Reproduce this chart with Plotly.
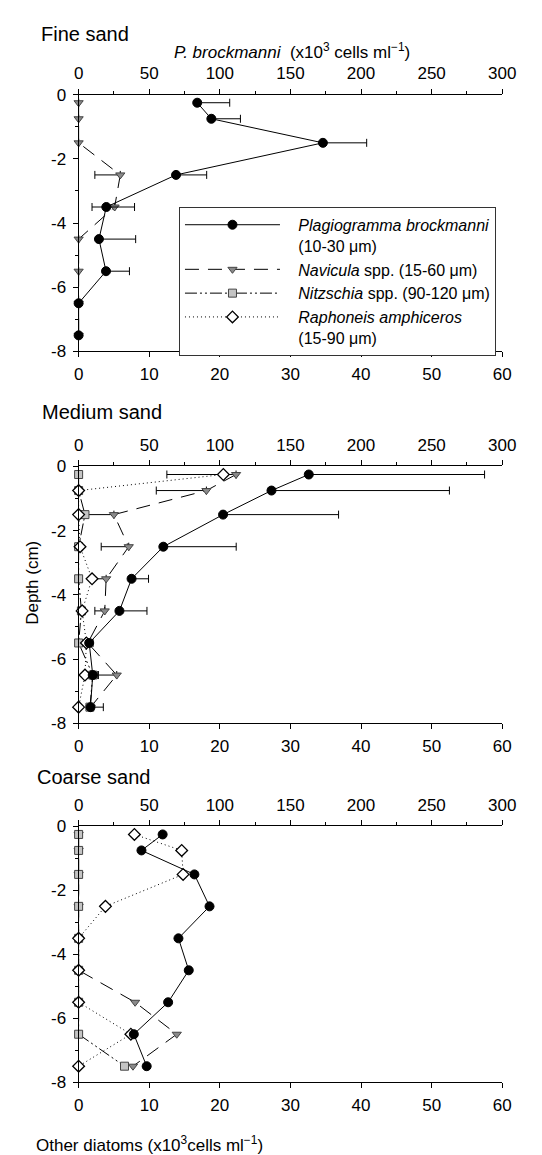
import plotly.graph_objects as go

# ---------------- data ----------------
depth = [-0.25, -0.75, -1.5, -2.5, -3.5, -4.5, -5.5, -6.5, -7.5]

fine_plagio = [84, 94, 173, 69, 19.6, 14.4, 19.4, 0, 0]
fine_plagio_err = [23, 20.6, 31, 21.7, 20, 26, 16.6, 0, 0]
fine_navicula = [0, 0, 0, 5.9, 5.1, 0, 0, 0, 0]
fine_navicula_err = [0, 0, 0, 3.6, 3.2, 0, 0, 0, 0]

medium_plagio = [163, 136.6, 102.3, 60, 37.5, 28.9, 7.5, 10, 8.4]
medium_plagio_err = [124.5, 126, 81.8, 51.6, 12, 19.5, 2.7, 3.6, 9.1]
medium_navicula = [22.3, 18.1, 5.0, 7.1, 3.9, 3.7, 1.3, 5.4, 1.7]
medium_navicula_err = [9.8, 7.1, 4.1, 3.9, 1.8, 1.4, 0, 2.6, 0]
medium_nitzschia = [0, 0, 0.9, 0, 0, 0.4, 0, 2.0, 1.6]
medium_raphoneis = [20.5, 0, 0, 0.2, 1.9, 0.5, 1.1, 0.9, 0]

coarse_plagio = [59.5, 44.5, 82, 92.7, 70.7, 78, 63.4, 39.1, 48.2]
coarse_navicula = [0, 0, 0, 0, 0, 0, 8.0, 13.9, 7.7]
coarse_nitzschia = [0, 0, 0, 0, 0, 0, 0, 0, 6.5]
coarse_raphoneis = [7.9, 14.6, 14.8, 3.8, 0, 0, 0, 7.4, 0]

panel_titles = ["Fine sand", "Medium sand", "Coarse sand"]
NB = "\u00a0\u00a0\u00a0"
series_names = [
    f"{NB}<i>Plagiogramma brockmanni</i><br>{NB}(10-30 μm)",
    f"{NB}<i>Navicula</i> spp. (15-60 μm)",
    f"{NB}<i>Nitzschia</i> spp. (90-120 μm)",
    f"{NB}<i>Raphoneis amphiceros</i><br>{NB}(15-90 μm)",
]
depth_ticks = [0, -2, -4, -6, -8]
depth_ticktext = ["0", "-2", "-4", "-6", "-8"]

# ---------------- layout geometry ----------------
W, H = 542, 1155
FONT = "Liberation Sans, Arial, Helvetica, sans-serif"
X_LEFT, X_RIGHT = 68, 507
PANEL_Y = [(79, 340), (457, 718), (823, 1083)]


def fy(p):
    return 1 - p / H


def fx(p):
    return p / W


def ax_name(letter, n):
    return f"{letter}axis" if n == 1 else f"{letter}axis{n}"


def ax_ref(letter, n):
    return letter if n == 1 else f"{letter}{n}"


fig = go.Figure()

styles = {
    "plagio": dict(mode="lines+markers", line=dict(color="black", width=1),
                   marker=dict(symbol="circle", size=9, color="black",
                               line=dict(color="black", width=1))),
    "navicula": dict(mode="lines+markers", line=dict(color="black", width=1, dash="14px,9px"),
                     marker=dict(symbol="triangle-down", size=8, color="#8a8a8a",
                                 line=dict(color="#444444", width=1))),
    "nitzschia": dict(mode="lines+markers",
                      line=dict(color="black", width=1, dash="12px,3px,2px,3px,2px,3px"),
                      marker=dict(symbol="square", size=8, color="#c4c4c4",
                                  line=dict(color="#444444", width=1))),
    "raphoneis": dict(mode="lines+markers", line=dict(color="black", width=1, dash="1px,3px"),
                      marker=dict(symbol="diamond", size=9, color="white",
                                  line=dict(color="black", width=1.3))),
}


def err(vals, side):
    zeros = [0] * len(vals)
    if side == "plus":
        return dict(type="data", symmetric=False, array=vals, arrayminus=zeros,
                    color="black", thickness=1, width=4)
    return dict(type="data", symmetric=False, array=zeros, arrayminus=vals,
                color="black", thickness=1, width=4)


panels_data = [
    dict(plagio=fine_plagio, plagio_err=fine_plagio_err,
         navicula=fine_navicula, navicula_err=fine_navicula_err),
    dict(plagio=medium_plagio, plagio_err=medium_plagio_err,
         navicula=medium_navicula, navicula_err=medium_navicula_err,
         nitzschia=medium_nitzschia, raphoneis=medium_raphoneis),
    dict(plagio=coarse_plagio, navicula=coarse_navicula,
         nitzschia=coarse_nitzschia, raphoneis=coarse_raphoneis),
]

tick_font = dict(family=FONT, size=17, color="black")

for i, (ytop, ybot) in enumerate(PANEL_Y):
    xb, xt = 2 * i + 1, 2 * i + 2
    yl, yr, yi = 3 * i + 1, 3 * i + 2, 3 * i + 3
    d = panels_data[i]
    show = (i == 1)

    fig.add_trace(go.Scatter(
        x=d["plagio"], y=depth, name=series_names[0], showlegend=show,
        xaxis=ax_ref("x", xt), yaxis=ax_ref("y", yl), cliponaxis=False,
        error_x=err(d["plagio_err"], "plus") if "plagio_err" in d else None,
        **styles["plagio"]))
    fig.add_trace(go.Scatter(
        x=d["navicula"], y=depth, name=series_names[1], showlegend=show,
        xaxis=ax_ref("x", xb), yaxis=ax_ref("y", yl), cliponaxis=False,
        error_x=err(d["navicula_err"], "minus") if "navicula_err" in d else None,
        **styles["navicula"]))
    if "nitzschia" in d:
        fig.add_trace(go.Scatter(
            x=d["nitzschia"], y=depth, name=series_names[2], showlegend=show,
            xaxis=ax_ref("x", xb), yaxis=ax_ref("y", yl), cliponaxis=False,
            **styles["nitzschia"]))
    if "raphoneis" in d:
        fig.add_trace(go.Scatter(
            x=d["raphoneis"], y=depth, name=series_names[3], showlegend=show,
            xaxis=ax_ref("x", xb), yaxis=ax_ref("y", yl), cliponaxis=False,
            **styles["raphoneis"]))

    common = dict(showgrid=False, zeroline=False, fixedrange=True)
    fig.update_layout(**{
        ax_name("x", xb): dict(
            domain=[fx(X_LEFT), fx(X_RIGHT)], anchor=ax_ref("y", yl), range=[0, 60],
            dtick=10, tick0=0, ticks="outside", ticklen=5, tickcolor="black",
            showline=True, linecolor="black", linewidth=1, tickfont=tick_font,
            ticklabelstandoff=2, **common),
        ax_name("x", xt): dict(
            overlaying=ax_ref("x", xb), anchor=ax_ref("y", yl), side="top", range=[0, 300],
            dtick=50, tick0=0, ticks="outside", ticklen=5, tickcolor="black",
            minor=dict(dtick=25, ticks="outside", ticklen=3, tickcolor="black"),
            showline=True, linecolor="black", linewidth=1, tickfont=tick_font,
            ticklabelstandoff=3, **common),
        ax_name("y", yl): dict(
            domain=[fy(ybot), fy(ytop)], anchor=ax_ref("x", xb), range=[-8, 0],
            tickvals=depth_ticks, ticktext=depth_ticktext, ticks="outside", ticklen=5,
            tickcolor="black",
            minor=dict(dtick=1, tick0=0, ticks="outside", ticklen=3, tickcolor="black"),
            showline=True, linecolor="black", linewidth=1, tickfont=tick_font,
            ticklabelstandoff=3, **common),
        ax_name("y", yr): dict(
            overlaying=ax_ref("y", yl), anchor=ax_ref("x", xb), side="right", range=[-8, 0],
            dtick=1, tick0=0, ticks="inside", ticklen=4, tickcolor="#444444",
            showticklabels=False, showline=True, linecolor="#555555", linewidth=2, **common),
        ax_name("y", yi): dict(
            overlaying=ax_ref("y", yl), anchor=ax_ref("x", xb), side="left", range=[-8, 0],
            tickvals=depth_ticks, ticks="inside", ticklen=4, tickcolor="black",
            showticklabels=False, showline=False, **common),
    })

annotations = [
    dict(text=panel_titles[0], x=fx(27), y=fy(17), font=dict(size=20)),
    dict(text=panel_titles[1], x=fx(28), y=fy(402), font=dict(size=20)),
    dict(text=panel_titles[2], x=fx(23), y=fy(773), font=dict(size=20)),
    dict(text="Other diatoms (x10<sup>3</sup>cells ml<sup>−1</sup>)", x=fx(22), y=fy(1146),
         font=dict(size=17)),
]
annotations = [dict(a, xref="paper", yref="paper", xanchor="left", yanchor="middle",
                    showarrow=False) for a in annotations]
annotations.append(dict(text="<i>P. brockmanni</i>  (x10<sup>3</sup> cells ml<sup>−1</sup>)",
                        x=fx(289), y=fy(35), xref="paper", yref="paper", xanchor="center",
                        yanchor="middle", showarrow=False, font=dict(size=17)))
annotations.append(dict(text="Depth (cm)", x=fx(20), y=fy(575), xref="paper", yref="paper",
                        xanchor="center", yanchor="middle", textangle=-90, showarrow=False,
                        font=dict(size=17)))

fig.update_layout(
    width=W, height=H, margin=dict(l=0, r=0, t=0, b=0),
    paper_bgcolor="white", plot_bgcolor="white",
    font=dict(family=FONT, color="black", size=16),
    annotations=annotations,
    legend=dict(x=fx(172), y=fy(193), xanchor="left", yanchor="top",
                bordercolor="#333333", borderwidth=1, bgcolor="white",
                font=dict(family=FONT, size=16, color="black"),
                itemwidth=95, valign="top", tracegroupgap=0),
)

fig.write_html("out.html")
